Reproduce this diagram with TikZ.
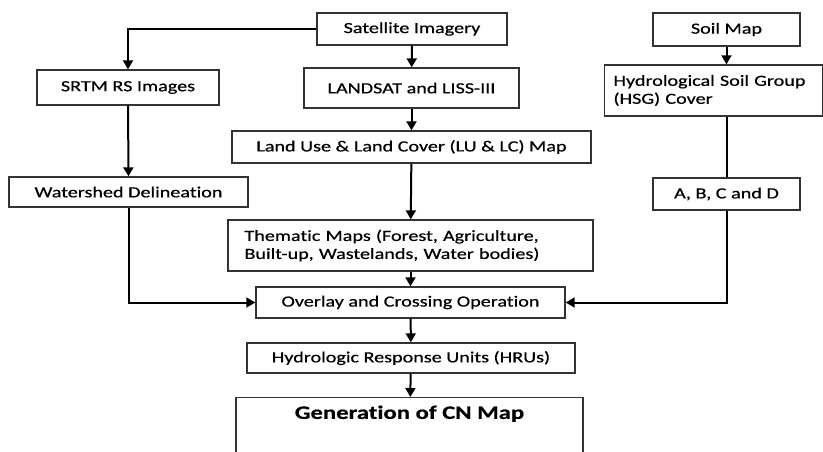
\documentclass[tikz,border=0pt]{standalone}
\usepackage{fontspec}
\setmainfont{Carlito}[FakeStretch=1.3,FakeBold=0.6,Ligatures=NoCommon]
\usepackage{tikz}
\usetikzlibrary{
	positioning,
	arrows.meta
}

\begin{document}
\begin{tikzpicture}[
		x=1pt, y=-1pt,
		font=\fontsize{15.5}{18}\selectfont,
		box/.style={draw=black!80, line width=1.4pt, inner sep=4pt},
		flow/.style={draw=black, line width=2pt, -{Triangle[length=9pt,width=10pt]}},
		plain/.style={draw=black, line width=2pt}
	]
		\useasboundingbox (0,0) rectangle (823,451);
		\clip (0,0) rectangle (823,451);
		\draw
			node [box,minimum width=190,minimum height=32] (sat)     at (412,29)    {Satellite Imagery}
			node [box,minimum width=182,minimum height=35] (srtm)    at (128,87.5)  {SRTM RS Images}
			node [box,minimum width=215,minimum height=40] (landsat) at (411.5,88)  {LANDSAT and LISS-III}
			node [box,minimum width=359,minimum height=32] (lulc)    at (411.5,147) {Land Use \& Land Cover (LU \& LC) Map}
			node [box,minimum width=239,minimum height=30] (ws)      at (128.5,192) {Watershed Delineation}
			node [box,minimum width=147,minimum height=33] (soil)    at (726.5,29.5) {Soil Map}
			node [box,minimum width=218,minimum height=51,text width=200,align=left] (hsg) at (713.5,90.5)
				{Hydrological Soil Group\\(HSG) Cover}
			node [box,minimum width=147,minimum height=32] (abcd)    at (726.5,194) {A, B, C and D}
			node [box,minimum width=365,minimum height=51,text width=332,align=left] (them) at (410.5,245.5)
				{Thematic Maps (Forest, Agriculture,\\Built-up, Wastelands, Water bodies)}
			node [box,minimum width=309,minimum height=31] (over)    at (410.5,302.5) {Overlay and Crossing Operation}
			node [box,minimum width=328,minimum height=30] (hru)     at (411,358)   {Hydrologic Response Units (HRUs)}
			node [box,minimum width=347,minimum height=80,anchor=north,
				label={[anchor=north,yshift=-5pt,font=\fontsize{19}{22}\selectfont\bfseries]north:Generation of CN Map}]
				(cn) at (409.5,397) {}
		;
		% satellite branch
		\draw [flow] (sat.west) -| (srtm.north);
		\draw [flow] (sat) -- (landsat);
		\draw [flow] (landsat) -- (lulc);
		\draw [flow] (lulc) -- (them);
		\draw [flow] (srtm) -- (ws);
		% soil branch
		\draw [flow] (soil.south) -- (soil.south |- hsg.north);
		\draw [plain] (abcd.north |- hsg.south) -- (abcd.north);
		% merge
		\draw [flow] (ws.south) |- (over.west);
		\draw [flow] (abcd.south) |- (over.east);
		\draw [flow] (them) -- (over);
		\draw [flow] (over) -- (hru);
		\draw [flow] (hru) -- (cn);
\end{tikzpicture}
\end{document}
